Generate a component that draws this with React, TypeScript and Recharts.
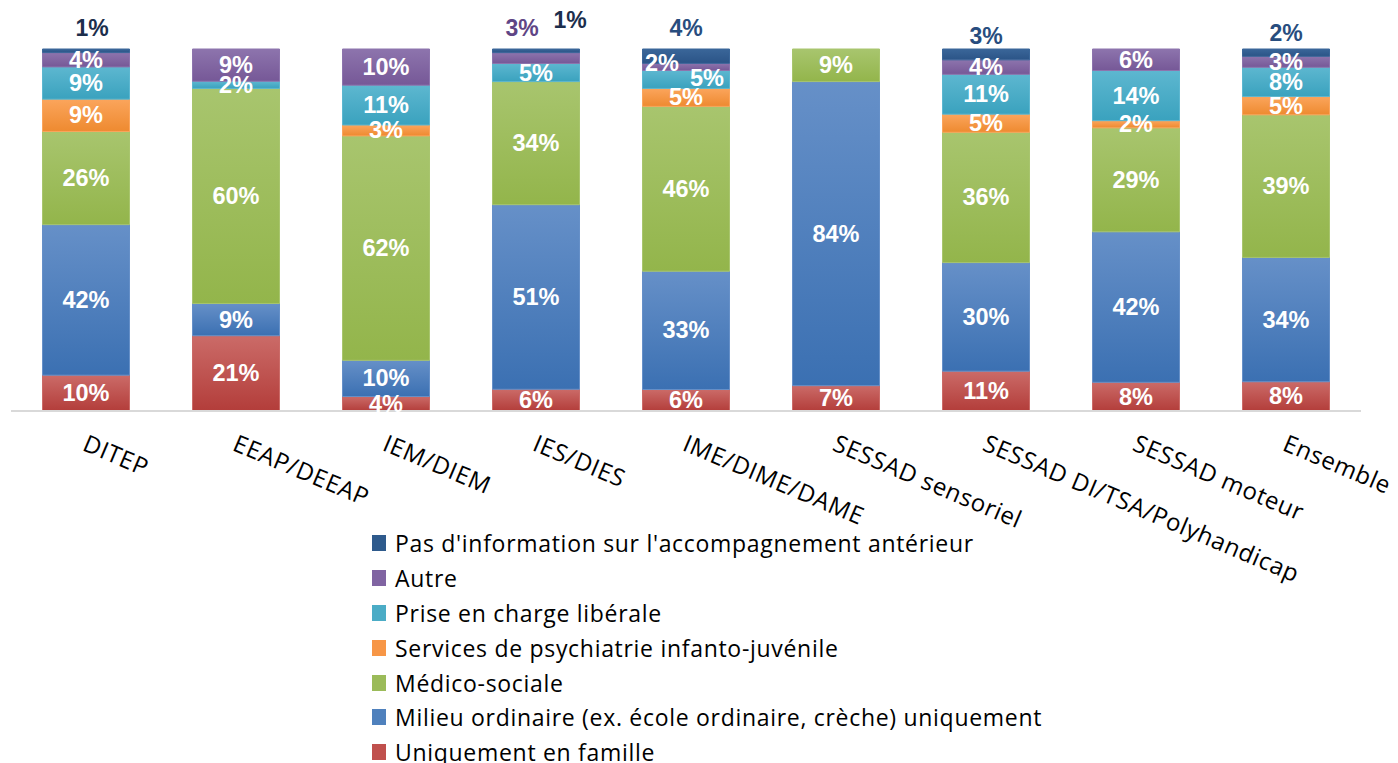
import React from 'react';
import { BarChart, Bar, XAxis, YAxis, LabelList } from 'recharts';

const categories = [
  'DITEP',
  'EEAP/DEEAP',
  'IEM/DIEM',
  'IES/DIES',
  'IME/DIME/DAME',
  'SESSAD sensoriel',
  'SESSAD DI/TSA/Polyhandicap',
  'SESSAD moteur',
  'Ensemble',
];

const famille = [10, 21, 4, 6, 6, 7, 11, 8, 8];
const milieu = [42, 9, 10, 51, 33, 84, 30, 42, 34];
const medico = [26, 60, 62, 34, 46, 9, 36, 29, 39];
const psy = [9, 0, 3, 0, 5, 0, 5, 2, 5];
const liberale = [9, 2, 11, 5, 5, 0, 11, 14, 8];
const autre = [4, 9, 10, 3, 2, 0, 4, 6, 3];
const sansInfo = [1, 0, 0, 1, 4, 0, 3, 0, 2];

// series from bottom to top
const series = [
  { key: 'famille', name: 'Uniquement en famille', values: famille, color: '#c0504d', top: '#cb6b68', bottom: '#b33d3a' },
  { key: 'milieu', name: 'Milieu ordinaire (ex. école ordinaire, crèche) uniquement', values: milieu, color: '#4f81bd', top: '#6690c8', bottom: '#3b70b2' },
  { key: 'medico', name: 'Médico-sociale', values: medico, color: '#9bbb59', top: '#a8c56e', bottom: '#93b54b' },
  { key: 'psy', name: 'Services de psychiatrie infanto-juvénile', values: psy, color: '#f79646', top: '#fba55c', bottom: '#ee8a30' },
  { key: 'liberale', name: 'Prise en charge libérale', values: liberale, color: '#4bacc6', top: '#5db7d0', bottom: '#3aa2be' },
  { key: 'autre', name: 'Autre', values: autre, color: '#8064a2', top: '#8d74ad', bottom: '#765897' },
  { key: 'sansInfo', name: "Pas d'information sur l'accompagnement antérieur", values: sansInfo, color: '#2e5a8c', top: '#3a6699', bottom: '#2b5487' },
];

const chartData = categories.map((cat, i) => {
  const row: Record<string, any> = { cat };
  series.forEach(s => { row[s.key] = s.values[i]; });
  return row;
});

// labels drawn above the bar (small segments)
const aboveLabels: Record<string, { dx: number; dy: number; color: string }> = {
  'DITEP|sansInfo': { dx: 6, dy: -21, color: '#1c2e4c' },
  'IES/DIES|sansInfo': { dx: 34, dy: -29, color: '#1c2e4c' },
  'IES/DIES|autre': { dx: -14, dy: -21, color: '#5f4585' },
  'IME/DIME/DAME|sansInfo': { dx: 0, dy: -21, color: '#284d7e' },
  'SESSAD DI/TSA/Polyhandicap|sansInfo': { dx: 0, dy: -13, color: '#284d7e' },
  'Ensemble|sansInfo': { dx: 0, dy: -16, color: '#284d7e' },
};

// small shifts for crowded labels inside bars
const insideNudge: Record<string, { dx: number; dy: number }> = {
  'IME/DIME/DAME|autre': { dx: -24, dy: -4 },
  'IME/DIME/DAME|liberale': { dx: 21, dy: -1 },
};

const PLOT_TOP = 41;
const labelFont = '"Liberation Sans", Arial, sans-serif';

const makeLabel = (key: string) => (props: any) => {
  const vb = props.viewBox || {};
  const x = props.x ?? vb.x;
  const y = props.y ?? vb.y;
  const width = props.width ?? vb.width;
  const height = props.height ?? vb.height;
  const [cat, raw] = String(props.value).split('#');
  const value = Number(raw);
  if (!value) return null;
  const id = `${cat}|${key}`;
  const cx = x + width / 2;
  const above = aboveLabels[id];
  if (above) {
    return (
      <text x={cx + above.dx} y={PLOT_TOP + above.dy} textAnchor="middle" dominantBaseline="central"
        fill={above.color} fontWeight="bold" fontSize={23} fontFamily={labelFont}>
        {value}%
      </text>
    );
  }
  const n = insideNudge[id] || { dx: 0, dy: 0 };
  return (
    <text x={cx + n.dx} y={y + height / 2 + n.dy} textAnchor="middle" dominantBaseline="central"
      fill="#ffffff" fontWeight="bold" fontSize={23.5} fontFamily={labelFont}>
      {value}%
    </text>
  );
};

const textFont = '"Open Sans", "Noto Sans", sans-serif';

export default function App() {
  const legendItems = [...series].reverse();
  return (
    <div style={{ position: 'relative', width: 1390, height: 755 }}>
      <BarChart
        width={1390}
        height={755}
        data={chartData}
        stackOffset="expand"
        barCategoryGap="21%"
        margin={{ top: PLOT_TOP, right: 37, left: 3, bottom: 292 }}
      >
        <defs>
          {series.map(s => (
            <linearGradient key={s.key} id={`grad-${s.key}`} x1="0" y1="0" x2="0" y2="1">
              <stop offset="0%" stopColor={s.top} />
              <stop offset="100%" stopColor={s.bottom} />
            </linearGradient>
          ))}
        </defs>
        <XAxis
          dataKey="cat"
          height={60}
          interval={0}
          tickLine={false}
          tickSize={0}
          tickMargin={23}
          axisLine={{ stroke: '#d9d9d9', strokeWidth: 2 }}
          angle={23}
          textAnchor="start"
          tick={{ fontSize: 24, fill: '#000', fontFamily: textFont, letterSpacing: 0.6, dx: 2 }}
        />
        <YAxis hide domain={[0, 1]} />
        {series.map(s => (
          <Bar
            key={s.key}
            dataKey={s.key}
            name={s.name}
            stackId="a"
            fill={`url(#grad-${s.key})`}
            stroke={s.top}
            strokeWidth={1}
            isAnimationActive={false}
          >
            <LabelList dataKey={(d: any) => `${d.cat}#${d[s.key]}`} content={makeLabel(s.key)} />
          </Bar>
        ))}
      </BarChart>
      <div style={{ position: 'absolute', left: 364, top: 518, fontFamily: textFont, fontSize: 23, letterSpacing: 0.7, color: '#000' }}>
        {legendItems.map(s => (
          <div key={s.key} style={{ display: 'flex', alignItems: 'center', height: 34.8, whiteSpace: 'nowrap' }}>
            <span style={{ display: 'inline-block', width: 14, height: 16, background: s.color, marginRight: 9 }} />
            <span>{s.name}</span>
          </div>
        ))}
      </div>
    </div>
  );
}
